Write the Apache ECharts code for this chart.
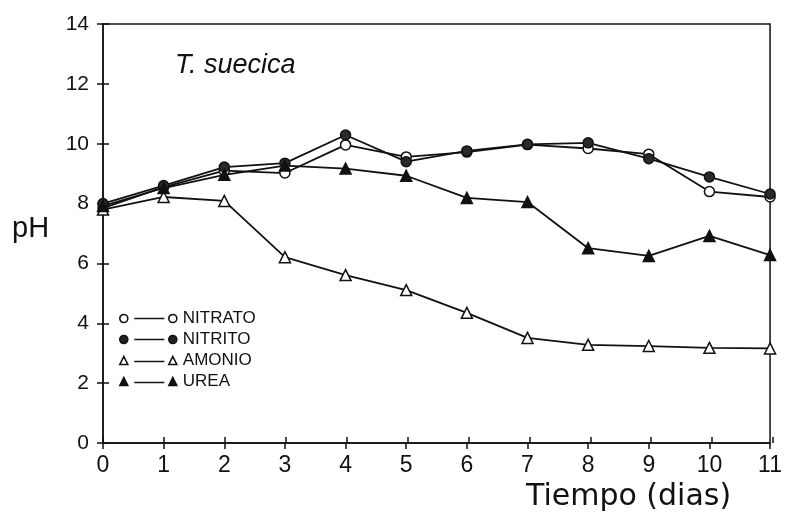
<!DOCTYPE html>
<html>
<head>
<meta charset="utf-8">
<script src="https://cdn.jsdelivr.net/npm/echarts@6/dist/echarts.min.js"></script>
<style>
  html, body { margin: 0; padding: 0; background: #fff; }
  #chart { width: 785px; height: 517px; }
</style>
</head>
<body>
<div id="chart"></div>
<script>
// Culture time in days
const days = [0, 1, 2, 3, 4, 5, 6, 7, 8, 9, 10, 11];

// pH readings of T. suecica grown on each nitrogen source
const nitrato = [7.85, 8.55, 9.10, 9.02, 9.96, 9.56, 9.72, 9.97, 9.84, 9.65, 8.40, 8.22];
const nitrito = [8.00, 8.60, 9.22, 9.35, 10.29, 9.40, 9.76, 9.98, 10.03, 9.50, 8.89, 8.32];
const amonio  = [7.80, 8.22, 8.09, 6.21, 5.61, 5.11, 4.35, 3.51, 3.28, 3.24, 3.18, 3.16];
const urea    = [7.92, 8.52, 8.96, 9.27, 9.17, 8.93, 8.19, 8.05, 6.51, 6.25, 6.92, 6.28];

const seriesNames = ['NITRATO', 'NITRITO', 'AMONIO', 'UREA'];
const yTicks = [0, 2, 4, 6, 8, 10, 12, 14];

const pairs = vals => days.map((d, i) => [d, vals[i]]);

// Legend icons: marker, dash, marker
const circleIcon = 'path://M0.5,4.5 A4,4 0 1,1 8.5,4.5 A4,4 0 1,1 0.5,4.5 Z M15,4.5 L45,4.5 M49.5,4.5 A4,4 0 1,1 57.5,4.5 A4,4 0 1,1 49.5,4.5 Z';
const triIcon = 'path://M0.5,8.5 L4.5,0.5 L8.5,8.5 Z M15,5.5 L45,5.5 M49.5,8.5 L53.5,0.5 L57.5,8.5 Z';

const ink = '#111';
const lineStyle = { color: ink, width: 1.8 };

function makeSeries(name, vals, symbol, fill, size) {
  return {
    name: name,
    type: 'line',
    xAxisIndex: 0,
    yAxisIndex: 0,
    data: pairs(vals),
    symbol: symbol,
    symbolSize: size,
    showAllSymbol: true,
    clip: false,
    lineStyle: lineStyle,
    itemStyle: { color: fill, borderColor: ink, borderWidth: 1.5 },
    emphasis: { disabled: true },
    animation: false
  };
}

const chart = echarts.init(document.getElementById('chart'), null, { renderer: 'canvas' });

// Plot frame; the second grid sits on top of the first and carries the inner tick marks
const rect = { left: 103, right: 12, top: 24, bottom: 74 };
const axisLineStyle = { color: ink, width: 1.5 };

function xAxisFor(gridIndex, inside) {
  return {
    type: 'value', gridIndex: gridIndex,
    min: days[0], max: days[days.length - 1], interval: 1, position: 'bottom',
    axisLine: { show: !inside, lineStyle: axisLineStyle },
    axisTick: { show: true, inside: inside, length: 6, lineStyle: axisLineStyle },
    axisLabel: inside ? { show: false } : { margin: 11, fontFamily: 'Liberation Sans', fontSize: 23, color: '#111' },
    splitLine: { show: false }
  };
}
function yAxisFor(gridIndex, inside) {
  return {
    type: 'value', gridIndex: gridIndex,
    min: yTicks[0], max: yTicks[yTicks.length - 1], interval: 2, position: 'left',
    axisLine: { show: !inside, lineStyle: axisLineStyle },
    axisTick: { show: true, inside: inside, length: 6, lineStyle: axisLineStyle },
    axisLabel: inside ? { show: false } : { margin: 14, fontFamily: 'Liberation Sans', fontSize: 21, color: '#111' },
    splitLine: { show: false }
  };
}

chart.setOption({
  backgroundColor: '#fff',
  animation: false,
  title: {
    text: 'T. suecica',
    left: 170,
    top: 47,
    textStyle: { fontFamily: 'Liberation Sans', fontStyle: 'italic', fontWeight: 'normal', fontSize: 27, color: '#111' }
  },
  grid: [
    Object.assign({ show: true, borderColor: ink, borderWidth: 1.5, backgroundColor: 'transparent' }, rect),
    Object.assign({ show: false }, rect)
  ],
  legend: {
    orient: 'vertical',
    left: 114,
    top: 305,
    itemWidth: 57,
    itemHeight: 8,
    itemGap: 4,
    selectedMode: false,
    textStyle: { fontFamily: 'Liberation Sans', fontSize: 17, color: '#111', padding: [0, 0, 0, 1] },
    data: [
      { name: seriesNames[0], icon: circleIcon, itemStyle: { color: '#fff', borderColor: ink, borderWidth: 1.6 } },
      { name: seriesNames[1], icon: circleIcon, itemStyle: { color: '#222', borderColor: ink, borderWidth: 1.6 } },
      { name: seriesNames[2], icon: triIcon, itemStyle: { color: '#fff', borderColor: ink, borderWidth: 1.6 } },
      { name: seriesNames[3], icon: triIcon, itemStyle: { color: '#111', borderColor: ink, borderWidth: 1.6 } }
    ]
  },
  xAxis: [xAxisFor(0, false), xAxisFor(1, true)],
  yAxis: [yAxisFor(0, false), yAxisFor(1, true)],
  graphic: [
    {
      type: 'text', left: 12, top: 214,
      style: { text: 'pH', font: 'normal 29px "Liberation Sans"', fill: '#111' }
    },
    {
      type: 'text', left: 526, top: 482,
      style: { text: 'Tiempo (dias)', font: 'normal 30px "DejaVu Sans"', fill: '#111' }
    }
  ],
  series: [
    makeSeries(seriesNames[0], nitrato, 'circle', '#fff', 10),
    makeSeries(seriesNames[1], nitrito, 'circle', '#2a2a2a', 10),
    makeSeries(seriesNames[2], amonio, 'triangle', '#fff', 11),
    makeSeries(seriesNames[3], urea, 'triangle', '#111', 11)
  ]
});
</script>
</body>
</html>
